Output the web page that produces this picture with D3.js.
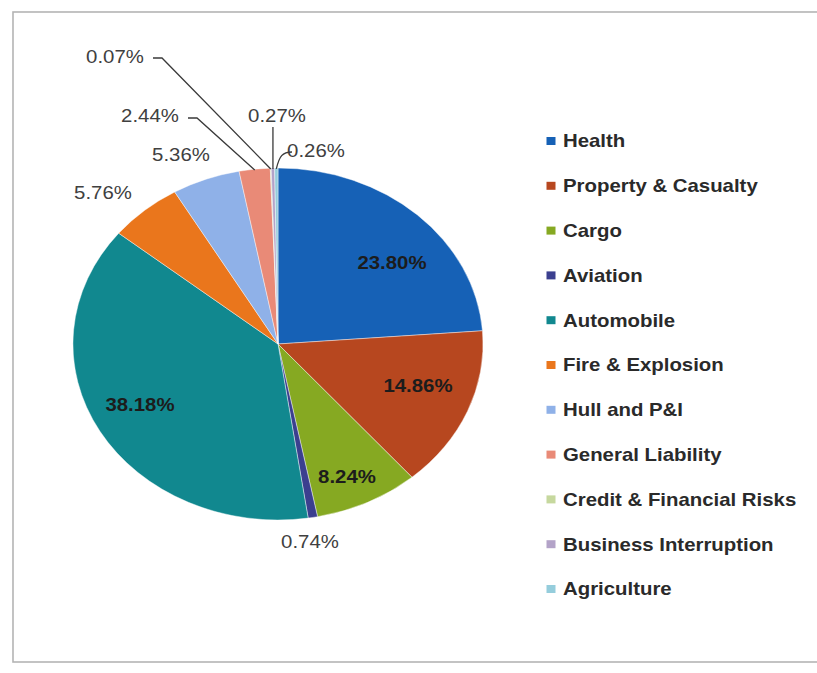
<!DOCTYPE html>
<html>
<head>
<meta charset="utf-8">
<script src="https://cdn.jsdelivr.net/npm/d3@7"></script>
<style>
  html, body { margin: 0; padding: 0; background: #fff; }
  svg { display: block; }
  text { font-family: "Liberation Sans", Arial, sans-serif; }
</style>
</head>
<body>
<svg id="chart" width="817" height="673"></svg>
<script>
// Share of premiums by line of business (%)
const categories = [
  "Health", "Property & Casualty", "Cargo", "Aviation", "Automobile",
  "Fire & Explosion", "Hull and P&I", "General Liability",
  "Credit & Financial Risks", "Business Interruption", "Agriculture"
];
const shares = [23.80, 14.86, 8.24, 0.74, 38.18, 5.76, 5.36, 2.44, 0.07, 0.27, 0.26];
const colors = [
  "#1661b6", "#b7471f", "#86a922", "#3b3f8f", "#11888f",
  "#ea761c", "#8fb1e8", "#e98a77", "#c6d89e", "#b3a3c8", "#95cddc"
];

// Layout
const W = 817, H = 673;
const cx = 278, cy = 344, r = 176, sx = 1.165;   // pie is drawn horizontally stretched
const fontSize = 17.5;

// Where each value label sits (page coordinates) and what kind of leader it gets
const labelLayout = [
  { x: 392, y: 263, inside: true },
  { x: 418, y: 386, inside: true },
  { x: 347, y: 477, inside: true },
  { x: 310, y: 542 },
  { x: 140, y: 405, inside: true },
  { x: 103, y: 193 },
  { x: 181, y: 155 },
  { x: 150, y: 116, leader: "elbow", lx: 188, ly: 118, kx: 197 },
  { x: 115, y: 57,  leader: "elbow", lx: 153, ly: 58,  kx: 162 },
  { x: 277, y: 116, leader: "vertical", ly: 127 },
  { x: 316, y: 151, leader: "curve", lx: 292, ly: 152 }
];

const legendX = 551, legendY0 = 141, legendStep = 44.8;

const svg = d3.select("#chart");

// Outer frame
svg.append("rect")
  .attr("x", 13).attr("y", 12)
  .attr("width", 830).attr("height", 650)
  .attr("fill", "#fff")
  .attr("stroke", "#b4b4b4")
  .attr("stroke-width", 1.6);

const data = categories.map((c, i) => ({ name: c, value: shares[i], color: colors[i], i }));

const pie = d3.pie().value(d => d.value).sort(null).startAngle(0).endAngle(2 * Math.PI);
const arcs = pie(data);
const arc = d3.arc().innerRadius(0).outerRadius(r);

const pieG = svg.append("g")
  .attr("transform", `translate(${cx},${cy}) scale(${sx},1)`);

pieG.selectAll("path.slice")
  .data(arcs)
  .join("path")
  .attr("class", "slice")
  .attr("d", arc)
  .attr("fill", d => d.data.color)
  .attr("stroke", "#ffffff")
  .attr("stroke-width", 0.4);

// Point on the slice edge at its mid angle, in page coordinates
function edgePoint(a, k = 1) {
  const t = (a.startAngle + a.endAngle) / 2;
  return [cx + sx * r * k * Math.sin(t), cy - r * k * Math.cos(t)];
}

// Leader lines
const leaderG = svg.append("g")
  .attr("fill", "none")
  .attr("stroke", "#3a3a3a")
  .attr("stroke-width", 1.3);

arcs.forEach((a, i) => {
  const L = labelLayout[i];
  if (!L.leader) return;
  const [ex, ey] = edgePoint(a, 0.995);
  let d;
  if (L.leader === "elbow") {
    d = `M${L.lx},${L.ly} H${L.kx} L${ex},${ey}`;
  } else if (L.leader === "vertical") {
    d = `M${ex},${L.ly} L${ex},${ey}`;
  } else {
    d = `M${ex},${ey} C${ex + 3},${L.ly + 4} ${ex + 6},${L.ly} ${L.lx},${L.ly}`;
  }
  leaderG.append("path").attr("d", d);
});

// Value labels
svg.append("g")
  .selectAll("text")
  .data(arcs)
  .join("text")
  .attr("transform", (a, i) => `translate(${labelLayout[i].x},${labelLayout[i].y}) scale(${sx},1)`)
  .attr("text-anchor", "middle")
  .attr("dy", "0.36em")
  .attr("font-size", fontSize)
  .attr("font-weight", (a, i) => labelLayout[i].inside ? "bold" : "normal")
  .attr("fill", (a, i) => labelLayout[i].inside ? "#1c1c1c" : "#404040")
  .text(a => a.data.value.toFixed(2) + "%");

// Legend
const legend = svg.append("g")
  .selectAll("g")
  .data(data)
  .join("g")
  .attr("transform", (d, i) => `translate(${legendX},${legendY0 + i * legendStep})`);

legend.append("rect")
  .attr("x", -4.5).attr("y", -4)
  .attr("width", 9).attr("height", 8)
  .attr("fill", d => d.color);

legend.append("text")
  .attr("transform", `translate(12,0) scale(${sx},1)`)
  .attr("dy", "0.36em")
  .attr("font-size", fontSize)
  .attr("font-weight", "bold")
  .attr("fill", "#2a2a2a")
  .text(d => d.name);
</script>
</body>
</html>
